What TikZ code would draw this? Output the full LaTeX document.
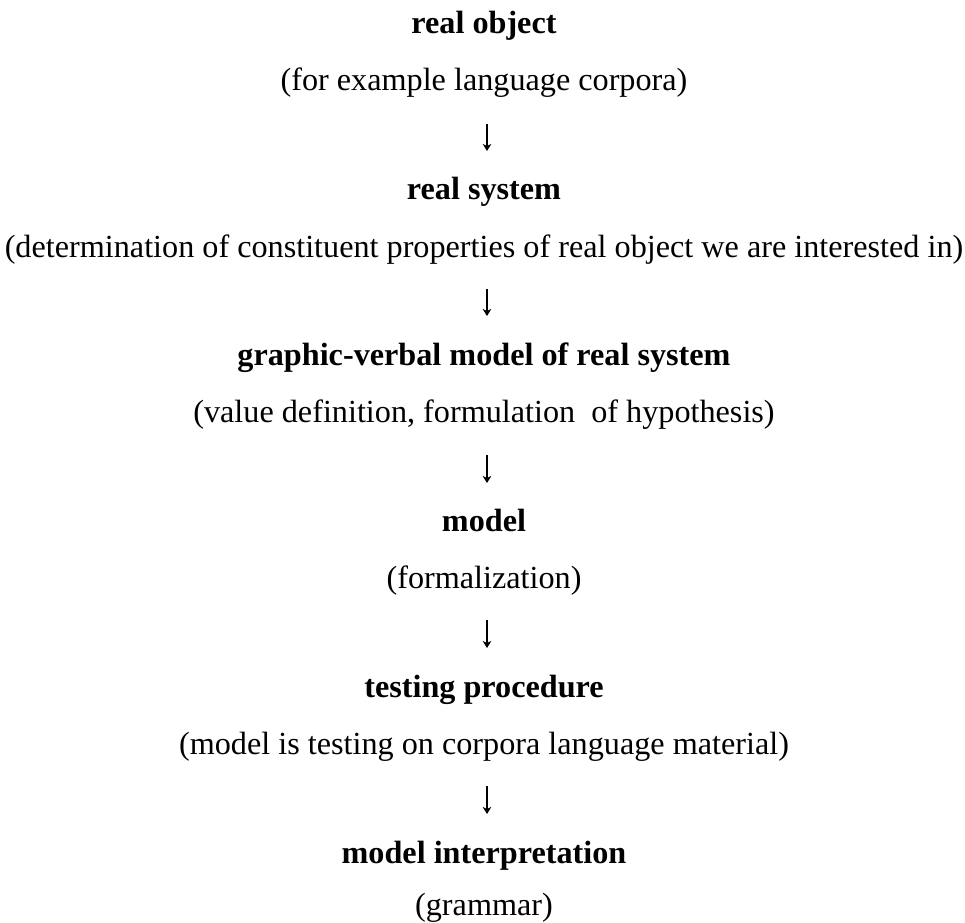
\documentclass[tikz,border=0pt]{standalone}
\usepackage{fontspec}
\setmainfont{Liberation Serif}
\usetikzlibrary{arrows.meta}
\begin{document}
\begin{tikzpicture}[x=1pt,y=-1pt,
  every node/.style={inner sep=0pt, anchor=base, font=\fontsize{32.2}{38}\selectfont},
  head/.style={font=\fontsize{32.2}{38}\selectfont\bfseries},
  note/.style={},
  flow/.style={line width=1.1pt, -{Stealth[length=7pt,width=8.5pt,inset=2pt]}}]
  \useasboundingbox (0,0) rectangle (965,922);
  \def\cx{484}
  \def\ax{487}
  % stage titles and their explanations
  \node[head] (h1) at (\cx,33)  {real object};
  \node[note] (n1) at (\cx,90)  {(for example language corpora)};
  \node[head] (h2) at (\cx,199) {real system};
  \node[note] (n2) at (\cx,257) {(determination of constituent properties of real object we are interested in)};
  \node[head] (h3) at (\cx,365) {graphic-verbal model of real system};
  \node[note] (n3) at (\cx,422) {(value definition, formulation\ \ of hypothesis)};
  \node[head] (h4) at (\cx,531) {model};
  \node[note] (n4) at (\cx,588) {(formalization)};
  \node[head] (h5) at (\cx,697) {testing procedure};
  \node[note] (n5) at (\cx,754) {(model is testing on corpora language material)};
  \node[head] (h6) at (\cx,863) {model interpretation};
  \node[note] (n6) at (\cx,915) {(grammar)};
  % arrow ends between consecutive stages
  \coordinate (a1s) at (\ax,124); \coordinate (a1e) at (\ax,151);
  \coordinate (a2s) at (\ax,289); \coordinate (a2e) at (\ax,316);
  \coordinate (a3s) at (\ax,455); \coordinate (a3e) at (\ax,483);
  \coordinate (a4s) at (\ax,620); \coordinate (a4e) at (\ax,648);
  \coordinate (a5s) at (\ax,786); \coordinate (a5e) at (\ax,814);
  \draw[flow] (a1s) -- (a1e);
  \draw[flow] (a2s) -- (a2e);
  \draw[flow] (a3s) -- (a3e);
  \draw[flow] (a4s) -- (a4e);
  \draw[flow] (a5s) -- (a5e);
\end{tikzpicture}
\end{document}
